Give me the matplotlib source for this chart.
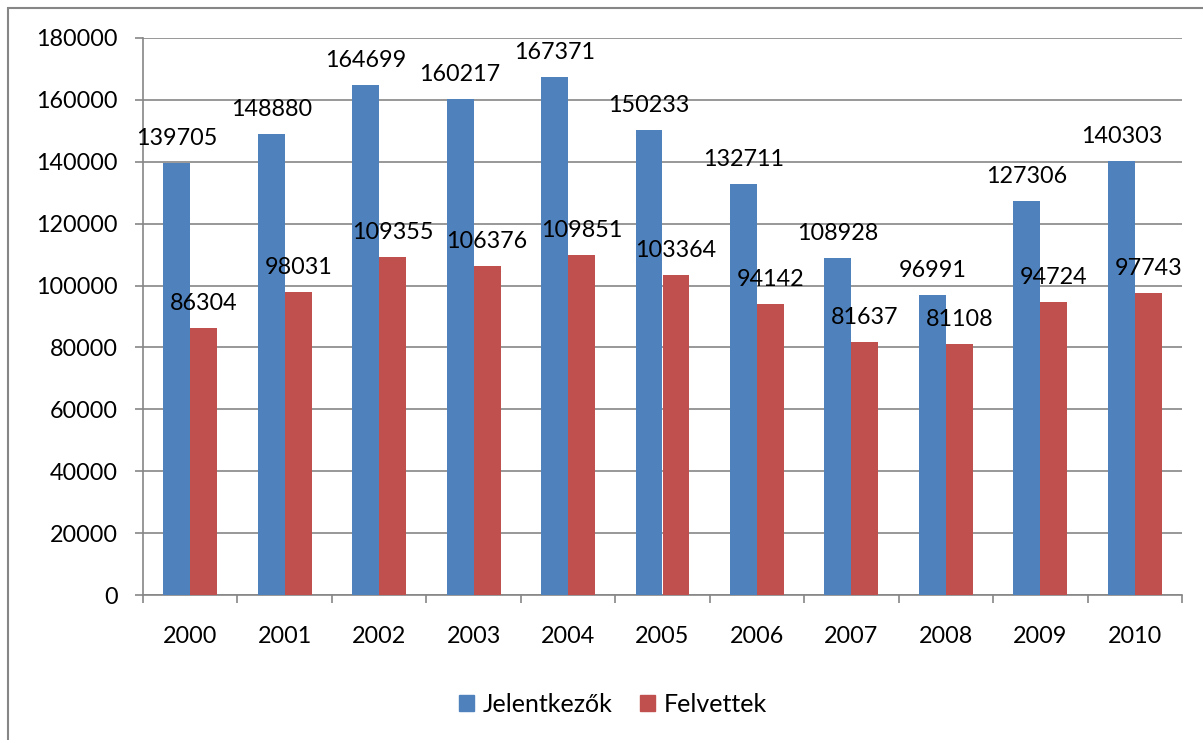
import numpy as np
import matplotlib.pyplot as plt
from matplotlib.patches import Rectangle, Patch

plt.rcParams['font.family'] = ['Lato', 'DejaVu Sans']

years = ['2000', '2001', '2002', '2003', '2004', '2005',
         '2006', '2007', '2008', '2009', '2010']
jelentkezok = [139705, 148880, 164699, 160217, 167371, 150233,
               132711, 108928, 96991, 127306, 140303]
felvettek = [86304, 98031, 109355, 106376, 109851, 103364,
             94142, 81637, 81108, 94724, 97743]

blue = '#4F81BD'
red = '#C0504D'
grid_col = '#868686'
fs = 16.8

fig = plt.figure(figsize=(12.03, 7.40), dpi=100)
ax = fig.add_axes([143/1203, 1-595/740, (1182-143)/1203, (595-38)/740])

x = np.arange(len(years))
w = 0.285
b1 = ax.bar(x - w/2, jelentkezok, w, color=blue, zorder=3)
b2 = ax.bar(x + w/2, felvettek, w, color=red, zorder=3)

for bars, vals in ((b1, jelentkezok), (b2, felvettek)):
    for rect, v in zip(bars, vals):
        ax.annotate(str(v), (rect.get_x() + rect.get_width()/2, v),
                    xytext=(0, 10), textcoords='offset points',
                    ha='center', va='bottom', fontsize=fs, zorder=4)

ax.set_ylim(0, 180000)
ax.set_yticks(np.arange(0, 180001, 20000))
ax.set_xlim(-0.5, len(years) - 0.5)
ax.set_xticks(x)
ax.set_xticklabels(years)
ax.set_xticks(np.arange(-0.5, len(years)), minor=True)
ax.tick_params(axis='x', which='major', length=0, pad=22, labelsize=fs)
ax.tick_params(axis='x', which='minor', length=6, color=grid_col, width=1.2)
ax.tick_params(axis='y', length=6, color=grid_col, width=1.2, pad=12, labelsize=fs)

ax.yaxis.grid(True, color=grid_col, linewidth=1.2, zorder=0)
ax.set_axisbelow(True)
for s in ('top', 'right'):
    ax.spines[s].set_visible(False)
for s in ('left', 'bottom'):
    ax.spines[s].set_color(grid_col)
    ax.spines[s].set_linewidth(1.2)

handles = [Patch(color=blue, label='Jelentkezők'), Patch(color=red, label='Felvettek')]
fig.legend(handles=handles, loc='center', bbox_to_anchor=(613/1203, 1-704/740),
           ncol=2, frameon=False, fontsize=18, handlelength=0.6,
           handleheight=0.6, handletextpad=0.35, columnspacing=1.1)

# chart area border, cut off at right and bottom like the reference
fig.patches.append(Rectangle((8/1203, -0.1), 1.2, 1.1 - 8/740,
                             transform=fig.transFigure, fill=False,
                             edgecolor=grid_col, linewidth=1.5))

fig.savefig('out.png', dpi=100)
